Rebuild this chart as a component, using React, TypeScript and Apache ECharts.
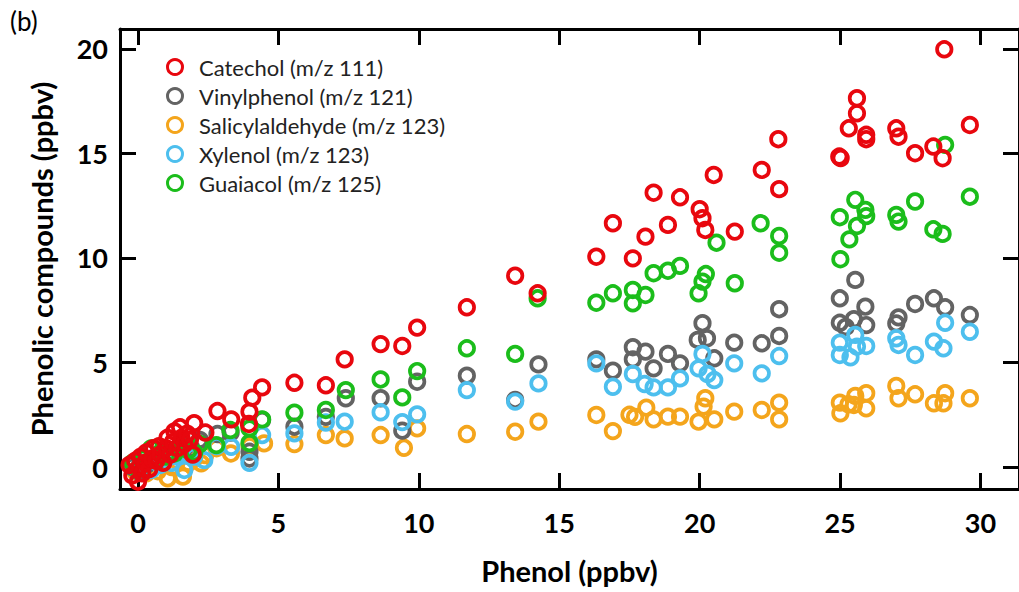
import React, { useEffect, useRef } from "react";
import * as echarts from "echarts";

const xTicks = [0, 5, 10, 15, 20, 25, 30];
const yTicks = [0, 5, 10, 15, 20];

const seriesNames = [
  "Catechol (m/z 111)",
  "Vinylphenol (m/z 121)",
  "Salicylaldehyde (m/z 123)",
  "Xylenol (m/z 123)",
  "Guaiacol (m/z 125)",
];
const seriesColors = ["#e8070e", "#636363", "#f4a51c", "#4dbfee", "#1bbd1b"];

const catechol = [
  [-0.3, 0.1], [-0.2, -0.4], [-0.1, 0.3], [0.0, -0.7], [0.05, 0.0], [0.1, 0.5], [0.15, -0.3], [0.25, 0.2],
  [0.3, 0.7], [0.4, -0.1], [0.5, 0.4], [0.55, 0.9], [0.65, 0.3], [0.75, 1.0], [0.8, 0.6], [0.9, 0.2],
  [1.0, 0.9], [1.05, 1.4], [1.15, 0.6], [1.25, 1.2], [1.3, 1.7], [1.4, 0.9], [1.5, 1.9], [1.55, 1.4],
  [1.65, 1.1], [1.75, 1.6], [1.85, 1.3], [1.95, 0.6], [2.0, 2.1], [2.4, 1.65],
  [2.83, 2.68], [3.32, 2.28], [3.95, 2.06], [3.97, 2.65], [4.07, 3.32], [4.42, 3.81], [5.57, 4.03],
  [6.69, 3.91], [7.36, 5.15], [8.64, 5.88], [9.41, 5.79], [9.94, 6.67], [11.71, 7.64], [13.43, 9.15],
  [14.23, 8.31], [16.32, 10.06], [16.91, 11.66], [17.62, 9.98], [18.07, 11.02], [18.36, 13.12],
  [18.87, 11.58], [19.3, 12.9], [20.0, 12.33], [20.1, 11.9], [20.2, 11.34], [20.5, 13.97], [21.25, 11.26],
  [22.21, 14.21], [22.8, 15.68], [22.83, 13.29], [24.97, 14.85], [25.02, 14.78], [25.31, 16.2],
  [25.6, 16.92], [25.6, 17.64], [25.93, 15.89], [25.93, 15.68], [27.0, 16.2], [27.08, 15.8],
  [27.67, 15.01], [28.32, 15.33], [28.65, 14.77], [28.71, 19.98], [29.62, 16.36],
];

const vinylphenol = [
  [-0.2, 0.0], [0.0, -0.2], [0.1, 0.2], [0.3, 0.1], [0.5, 0.4], [0.7, 0.3], [0.9, 0.6], [1.1, 0.5],
  [1.3, 0.8], [1.5, 0.7], [1.7, 1.0], [1.9, 0.9], [2.2, 1.3], [2.83, 1.58], [3.3, 1.65], [3.97, 0.41],
  [3.97, 0.73], [4.42, 2.25], [5.57, 1.93], [6.69, 2.4], [7.4, 3.29], [8.64, 3.29], [9.41, 1.74],
  [9.94, 4.08], [11.71, 4.37], [13.43, 3.21], [14.26, 4.91], [16.32, 5.15], [16.91, 4.61], [17.62, 5.73],
  [17.62, 5.15], [18.07, 5.52], [18.36, 4.72], [18.87, 5.41], [19.3, 4.96], [19.93, 6.08], [20.1, 6.88],
  [20.26, 6.16], [20.52, 5.2], [21.23, 5.95], [22.21, 5.92], [22.83, 6.27], [22.83, 7.55], [24.99, 8.07],
  [24.99, 6.9], [25.2, 6.7], [25.49, 7.07], [25.54, 8.95], [25.9, 7.67], [25.93, 6.79], [27.0, 6.87],
  [27.08, 7.16], [27.67, 7.8], [28.34, 8.07], [28.74, 7.64], [29.62, 7.27],
];

const salicylaldehyde = [
  [-0.1, -0.2], [0.1, 0.0], [0.3, -0.3], [0.5, 0.1], [0.7, -0.2], [0.9, 0.2], [1.06, -0.54], [1.2, 0.0],
  [1.4, 0.3], [1.6, -0.46], [1.8, 0.2], [2.0, 0.4], [2.25, 0.18], [2.39, 0.57], [2.8, 0.9], [3.31, 0.65],
  [3.97, 1.0], [4.49, 1.13], [5.57, 1.1], [6.69, 1.53], [7.36, 1.37], [8.64, 1.53], [9.47, 0.92],
  [9.94, 1.85], [11.71, 1.58], [13.43, 1.69], [14.26, 2.17], [16.32, 2.49], [16.91, 1.72], [17.5, 2.5],
  [17.7, 2.4], [18.1, 2.84], [18.36, 2.28], [18.87, 2.41], [19.3, 2.41], [19.96, 2.17], [20.14, 2.89],
  [20.2, 3.29], [20.52, 2.28], [21.23, 2.65], [22.21, 2.73], [22.83, 3.08], [22.83, 2.28], [24.99, 3.08],
  [25.01, 2.57], [25.3, 3.0], [25.49, 2.97], [25.54, 3.4], [25.93, 3.53], [25.93, 2.81], [27.0, 3.88],
  [27.08, 3.29], [27.67, 3.48], [28.34, 3.05], [28.68, 3.05], [28.74, 3.53], [29.62, 3.29],
];

const xylenol = [
  [-0.2, 0.1], [0.0, -0.1], [0.2, 0.2], [0.47, -0.14], [0.6, 0.3], [0.8, 0.1], [1.0, 0.4], [1.2, 0.2],
  [1.4, 0.5], [1.65, -0.14], [1.8, 0.6], [2.0, 0.5], [2.36, 0.33], [2.8, 1.0], [3.32, 0.97], [3.97, 0.2],
  [4.42, 1.53], [5.57, 1.61], [6.69, 2.13], [7.36, 2.17], [8.64, 2.62], [9.41, 2.15], [9.94, 2.52],
  [11.71, 3.68], [13.43, 3.13], [14.26, 4.0], [16.32, 4.96], [16.91, 3.84], [17.62, 4.45], [18.04, 3.97],
  [18.36, 3.81], [18.87, 3.81], [19.3, 4.24], [19.96, 4.72], [20.1, 5.41], [20.28, 4.45], [20.52, 4.16],
  [21.23, 4.96], [22.21, 4.48], [22.83, 5.31], [24.99, 5.95], [24.99, 5.36], [25.37, 5.25], [25.54, 6.32],
  [25.6, 5.76], [25.93, 5.79], [27.0, 6.16], [27.08, 5.84], [27.67, 5.36], [28.34, 6.0], [28.68, 5.68],
  [28.74, 6.9], [29.62, 6.47],
];

const guaiacol = [
  [-0.2, 0.2], [0.0, -0.1], [0.2, 0.4], [0.47, 0.89], [0.6, 0.4], [0.8, 0.7], [1.0, 0.5], [1.3, 0.65],
  [1.5, 1.0], [1.8, 0.8], [2.0, 0.7], [2.2, 1.1], [2.79, 1.05], [3.29, 1.77], [3.97, 1.85], [3.97, 1.15],
  [4.42, 2.28], [5.57, 2.6], [6.69, 2.73], [7.4, 3.68], [8.64, 4.19], [9.41, 3.33], [9.94, 4.59],
  [11.71, 5.68], [13.43, 5.41], [14.23, 8.07], [16.32, 7.86], [16.91, 8.31], [17.62, 8.47], [17.62, 7.83],
  [18.07, 8.23], [18.36, 9.27], [18.87, 9.39], [19.3, 9.62], [19.96, 8.31], [20.1, 8.87], [20.22, 9.23],
  [20.6, 10.73], [21.25, 8.79], [22.17, 11.66], [22.83, 11.05], [22.83, 10.25], [24.99, 11.95],
  [25.01, 9.94], [25.33, 10.89], [25.54, 12.78], [25.6, 11.53], [25.9, 12.3], [25.93, 12.0], [27.0, 12.06],
  [27.08, 11.74], [27.67, 12.7], [28.32, 11.37], [28.65, 11.15], [28.74, 15.41], [29.62, 12.93],
];

const seriesData = [catechol, vinylphenol, salicylaldehyde, xylenol, guaiacol];
const seriesZ = [10, 4, 2, 5, 6];

const FONT = "Lato, 'Open Sans', sans-serif";

export default function App() {
  const ref = useRef<HTMLDivElement>(null);
  useEffect(() => {
    if (!ref.current) return;
    const chart = echarts.init(ref.current, null, { renderer: "svg" });
    const axisLine = { show: true, onZero: false, lineStyle: { color: "#000", width: 3 } };
    const tickX = { show: true, inside: true, length: 16, lineStyle: { color: "#000", width: 3 }, customValues: xTicks };
    const tickY = { show: true, inside: true, length: 16, lineStyle: { color: "#000", width: 3 }, customValues: yTicks };
    chart.setOption({
      animation: false,
      backgroundColor: "#fff",
      graphic: [
        {
          type: "text",
          left: 10,
          top: 8,
          style: { text: "(b)", fontFamily: FONT, fontSize: 26, fill: "#000" },
        },
      ],
      legend: {
        orient: "vertical",
        left: 161,
        top: 51,
        icon: "circle",
        itemWidth: 38,
        itemHeight: 15,
        itemGap: 7,
        itemStyle: { color: "transparent", borderWidth: 3 },
        textStyle: { fontFamily: FONT, fontSize: 22, color: "#222", lineHeight: 22 },
        data: seriesNames,
      },
      grid: { left: 120, top: 29, width: 901, height: 460, containLabel: false },
      xAxis: [
        {
          type: "value",
          min: -0.64,
          max: 31.37,
          position: "bottom",
          name: "Phenol (ppbv)",
          nameLocation: "middle",
          nameGap: 67,
          nameTextStyle: { fontFamily: FONT, fontSize: 29, fontWeight: "bold", color: "#000" },
          axisLine,
          axisTick: tickX,
          axisLabel: {
            show: true,
            customValues: xTicks,
            margin: 20,
            fontFamily: FONT,
            fontSize: 27,
            fontWeight: "bold",
            color: "#000",
          },
          splitLine: { show: false },
        },
        {
          type: "value",
          min: -0.64,
          max: 31.37,
          position: "top",
          axisLine,
          axisTick: tickX,
          axisLabel: { show: false },
          splitLine: { show: false },
        },
      ],
      yAxis: [
        {
          type: "value",
          min: -1.05,
          max: 20.95,
          position: "left",
          name: "Phenolic compounds (ppbv)",
          nameLocation: "middle",
          nameGap: 64,
          nameTextStyle: { fontFamily: FONT, fontSize: 29, fontWeight: "bold", color: "#000" },
          axisLine,
          axisTick: tickY,
          axisLabel: {
            show: true,
            customValues: yTicks,
            margin: 12,
            fontFamily: FONT,
            fontSize: 27,
            fontWeight: "bold",
            color: "#000",
          },
          splitLine: { show: false },
        },
        {
          type: "value",
          min: -1.05,
          max: 20.95,
          position: "right",
          axisLine,
          axisTick: tickY,
          axisLabel: { show: false },
          splitLine: { show: false },
        },
      ],
      series: seriesNames.map((name, i) => ({
        name,
        type: "scatter",
        xAxisIndex: 0,
        yAxisIndex: 0,
        z: seriesZ[i],
        symbol: "circle",
        symbolSize: 14.5,
        itemStyle: { color: "transparent", borderColor: seriesColors[i], borderWidth: 3.7, opacity: 1 },
        emphasis: { disabled: true },
        data: seriesData[i],
      })),
    });
    return () => chart.dispose();
  }, []);
  return (
    <div
      ref={ref}
      style={{ position: "fixed", left: 0, top: 0, width: 1019, height: 592, background: "#fff" }}
    />
  );
}
